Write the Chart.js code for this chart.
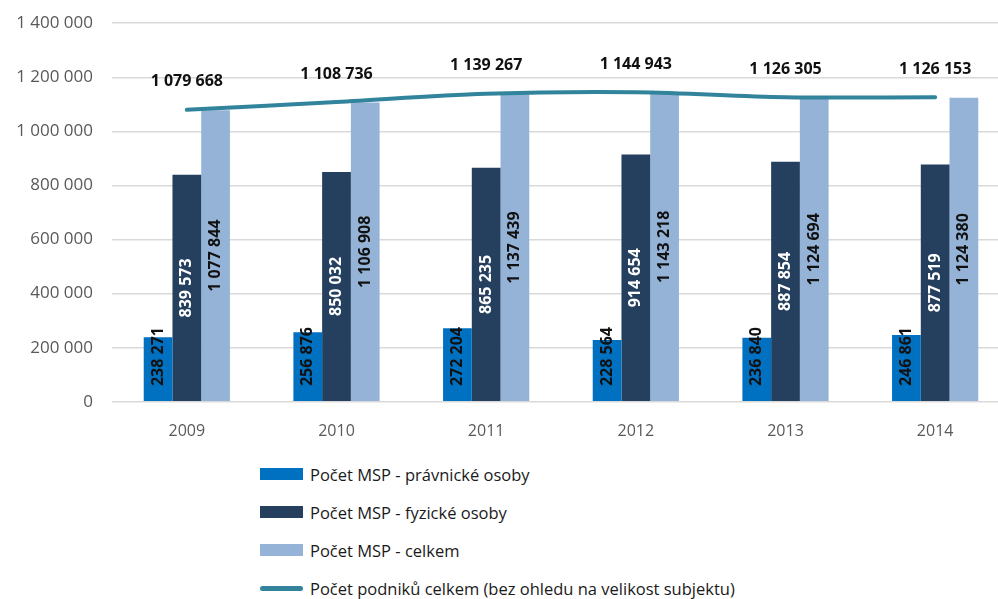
<!DOCTYPE html>
<html>
<head>
<meta charset="utf-8">
<script src="https://cdn.jsdelivr.net/npm/chart.js@4.4.1/dist/chart.umd.min.js"></script>
<style>
    body { margin: 0; background: #fff; overflow: hidden; font-family: "Open Sans", sans-serif; }
    #wrap { position: relative; top: -6px; width: 1010px; height: 459px; }
    #legend { position: absolute; left: 260px; top: 455px; }
    .item { height: 38px; display: flex; align-items: center; font-size: 16.5px; color: #1a1a1a; }
    .box { width: 43px; height: 12px; margin-right: 7px; }
    .line { width: 43px; height: 5px; border-radius: 3px; margin-right: 7px; }
</style>
</head>
<body>
<div id="wrap"><canvas id="mspChart"></canvas></div>
<div id="legend"></div>
<script>
var years = ["2009", "2010", "2011", "2012", "2013", "2014"];
var pravnicke = [238271, 256876, 272204, 228564, 236840, 246861];
var fyzicke = [839573, 850032, 865235, 914654, 887854, 877519];
var celkemMsp = [1077844, 1106908, 1137439, 1143218, 1124694, 1124380];
var podnikyCelkem = [1079668, 1108736, 1139267, 1144943, 1126305, 1126153];

var yTicks = [0, 200000, 400000, 600000, 800000, 1000000, 1200000, 1400000];

function fmt(v) {
    return String(v).replace(/\B(?=(\d{3})+(?!\d))/g, " ");
}

// value labels: rotated inside bars, above points for the line
var valueLabels = {
    id: "valueLabels",
    afterDatasetsDraw: function (chart) {
        var ctx = chart.ctx;
        ctx.save();
        ctx.font = "bold 16px 'Open Sans'";
        ctx.textBaseline = "middle";
        chart.data.datasets.forEach(function (ds, i) {
            var meta = chart.getDatasetMeta(i);
            meta.data.forEach(function (el, j) {
                var text = fmt(ds.data[j]);
                if (ds.type === "line") {
                    ctx.fillStyle = "#111";
                    ctx.textAlign = "center";
                    ctx.fillText(text, el.x, el.y - 28);
                    return;
                }
                ctx.save();
                ctx.fillStyle = ds.labelColor;
                if (i === 0) {
                    ctx.translate(el.x, el.base - 15);
                    ctx.rotate(-Math.PI / 2);
                    ctx.textAlign = "left";
                } else {
                    ctx.translate(el.x, (el.y + el.base) / 2);
                    ctx.rotate(-Math.PI / 2);
                    ctx.textAlign = "center";
                }
                ctx.fillText(text, 0, 0);
                ctx.restore();
            });
        });
        ctx.restore();
    }
};

var ctx = document.getElementById("mspChart").getContext("2d");
var mspChart = new Chart(ctx, {
    type: "bar",
    data: {
        labels: years,
        datasets: [{
            label: "Počet MSP - právnické osoby",
            data: pravnicke,
            backgroundColor: "#0070c0",
            labelColor: "#111",
            order: 1
        }, {
            label: "Počet MSP - fyzické osoby",
            data: fyzicke,
            backgroundColor: "#253f5f",
            labelColor: "#fff",
            order: 1
        }, {
            label: "Počet MSP - celkem",
            data: celkemMsp,
            backgroundColor: "#95b3d7",
            labelColor: "#111",
            order: 1
        }, {
            type: "line",
            label: "Počet podniků celkem (bez ohledu na velikost subjektu)",
            data: podnikyCelkem,
            borderColor: "#31849b",
            borderWidth: 4,
            pointRadius: 0,
            tension: 0.35,
            borderCapStyle: "round",
            order: 0
        }]
    },
    options: {
        responsive: true,
        maintainAspectRatio: false,
        animation: false,
        categoryPercentage: 0.576,
        barPercentage: 1,
        layout: { padding: { top: 15, right: 0, left: 0, bottom: 0 } },
        plugins: {
            legend: { display: false },
            tooltip: { enabled: false }
        },
        scales: {
            x: {
                grid: { display: false },
                border: { display: false },
                ticks: { color: "#595959", font: { family: "Open Sans", size: 16 }, padding: 12 }
            },
            y: {
                min: 0,
                max: 1400000,
                afterFit: function (scale) { scale.width = 112; },
                afterBuildTicks: function (scale) {
                    scale.ticks = yTicks.map(function (v) { return { value: v }; });
                },
                grid: { color: "#d9d9d9", lineWidth: 1.5, drawTicks: false },
                border: { display: false },
                ticks: {
                    color: "#595959",
                    font: { family: "Open Sans", size: 17 },
                    padding: 19,
                    callback: function (v) { return fmt(v); }
                }
            }
        }
    },
    plugins: [valueLabels]
});

// legend as html list, one item per row
var legendEl = document.getElementById("legend");
mspChart.data.datasets.forEach(function (ds) {
    var row = document.createElement("div");
    row.className = "item";
    var mark = document.createElement("span");
    if (ds.type === "line") {
        mark.className = "line";
        mark.style.background = ds.borderColor;
    } else {
        mark.className = "box";
        mark.style.background = ds.backgroundColor;
    }
    row.appendChild(mark);
    row.appendChild(document.createTextNode(ds.label));
    legendEl.appendChild(row);
});
</script>
</body>
</html>
